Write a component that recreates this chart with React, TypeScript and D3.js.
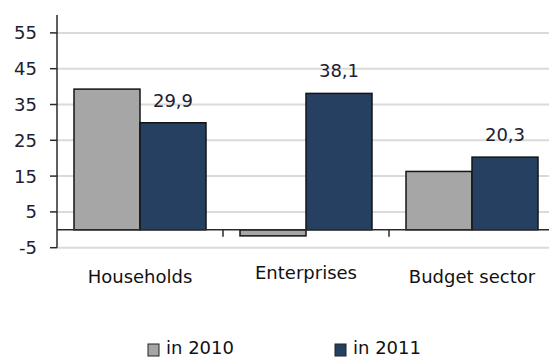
import React from "react";
import * as d3 from "d3";

const categories = ["Households", "Enterprises", "Budget sector"];
const seriesNames = ["in 2010", "in 2011"];
const values2010 = [39.3, -1.7, 16.3];
const values2011 = [29.9, 38.1, 20.3];
const labels2011 = ["29,9", "38,1", "20,3"];
const tickValues = [-5, 5, 15, 25, 35, 45, 55];
const seriesColors = ["#a6a6a6", "#264062"];

const W = 549;
const H = 358;
const FONT = "'DejaVu Sans', Verdana, sans-serif";

export default function App() {
  const y = d3.scaleLinear().domain([-5, 60]).range([247.7, 15]);
  const x0 = d3.scaleBand<string>().domain(categories).range([57, 555]).paddingInner(0).paddingOuter(0);
  const x1 = d3.scaleBand<string>().domain(seriesNames).range([17, 149]).padding(0);
  const allValues = [values2010, values2011];
  const y0 = y(0);
  const plotLeft = 57;
  const catOffsets = [0, -4, 0];

  return (
    <div style={{ position: "fixed", left: 0, top: 0, width: W, height: H, overflow: "hidden", background: "#fff" }}>
      <svg width={W} height={H} style={{ display: "block", fontFamily: FONT }}>
        <rect x={0} y={0} width={W} height={H} fill="#fff" />
        {/* gridlines */}
        {tickValues.map((t) => (
          <line key={"g" + t} x1={plotLeft} x2={W} y1={y(t)} y2={y(t)} stroke="#dadada" strokeWidth={2} />
        ))}
        {/* bars */}
        {categories.map((c, ci) =>
          seriesNames.map((s, si) => {
            const v = allValues[si][ci];
            const bx = (x0(c) as number) + (x1(s) as number);
            const top = Math.min(y(v), y0);
            const h = Math.abs(y(v) - y0);
            return (
              <rect
                key={c + s}
                x={bx}
                y={top}
                width={x1.bandwidth()}
                height={h}
                fill={seriesColors[si]}
                stroke="#141414"
                strokeWidth={1.5}
              />
            );
          })
        )}
        {/* data labels */}
        {categories.map((c, ci) => {
          const bx = (x0(c) as number) + (x1(seriesNames[1]) as number) + x1.bandwidth() / 2;
          return (
            <text key={"l" + c} x={bx} y={y(values2011[ci]) - 16} textAnchor="middle" fontSize={18} fill="#202030">
              {labels2011[ci]}
            </text>
          );
        })}
        {/* x axis at zero */}
        <line x1={plotLeft} x2={W} y1={y0} y2={y0} stroke="#2a2a2a" strokeWidth={1.5} />
        {x0.domain().slice(1).map((c) => (
          <line key={"xt" + c} x1={x0(c)} x2={x0(c)} y1={y0} y2={y0 + 7} stroke="#2a2a2a" strokeWidth={1.5} />
        ))}
        {/* y axis */}
        <line x1={plotLeft} x2={plotLeft} y1={y(60)} y2={y(-5)} stroke="#2a2a2a" strokeWidth={1.5} />
        {tickValues.map((t) => (
          <g key={"yt" + t}>
            <line x1={plotLeft - 7} x2={plotLeft} y1={y(t)} y2={y(t)} stroke="#2a2a2a" strokeWidth={1.5} />
            <text x={37} y={y(t)} dy="0.36em" textAnchor="end" fontSize={18} fill="#202030">
              {t}
            </text>
          </g>
        ))}
        {/* category labels */}
        {categories.map((c, ci) => (
          <text
            key={"c" + c}
            x={(x0(c) as number) + x0.bandwidth() / 2}
            y={283 + catOffsets[ci]}
            textAnchor="middle"
            fontSize={18}
            fill="#111"
          >
            {c}
          </text>
        ))}
        {/* legend */}
        {seriesNames.map((s, si) => {
          const lx = [148, 335][si];
          return (
            <g key={"lg" + s}>
              <rect x={lx} y={344} width={11} height={12} fill={seriesColors[si]} stroke="#222" strokeWidth={1} />
              <text x={lx + 18} y={354} fontSize={18} fill="#111">
                {s}
              </text>
            </g>
          );
        })}
      </svg>
    </div>
  );
}
